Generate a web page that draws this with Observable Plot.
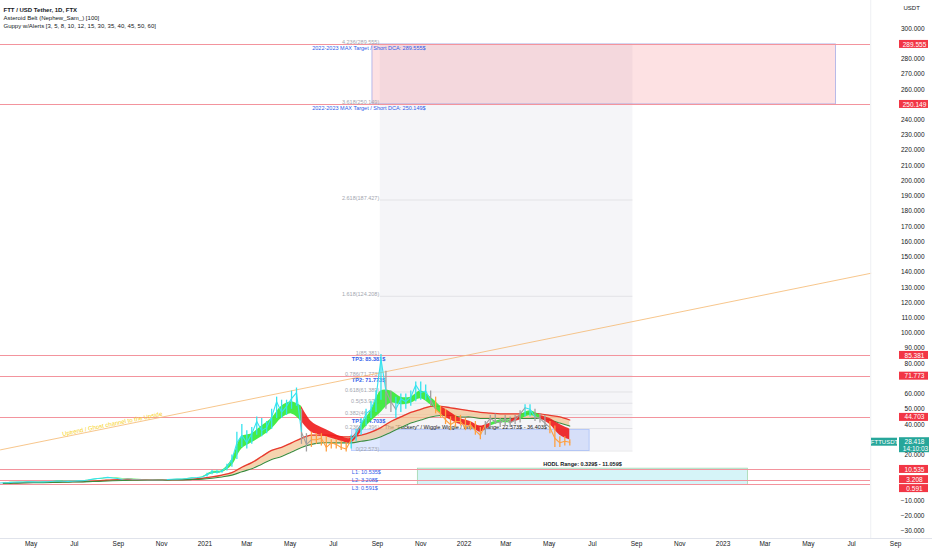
<!DOCTYPE html>
<html>
<head>
<meta charset="utf-8">
<script src="https://cdn.jsdelivr.net/npm/d3@7"></script>
<script src="https://cdn.jsdelivr.net/npm/@observablehq/plot@0.6"></script>
<style>
  body { margin: 0; background: #fff; }
  #chart { width: 932px; height: 550px; }
</style>
</head>
<body>
<div id="chart"></div>
<script>
// visible window of the chart
const chartStart = new Date("2020-03-19");
const chartEnd = new Date("2023-10-23");
const plotEdge = new Date("2023-07-28"); // where the price scale begins

// weekly closes FTT/USDT, Mondays from 2020-03-16 to 2022-05-30
const closes2020 = [1.6, 1.8, 1.9, 2.1, 2.2, 2.3, 2.4, 2.5, 2.3, 2.4, 2.5, 2.8, 2.9, 2.8, 2.7, 2.8, 3.0, 3.1, 3.6, 4.2, 4.6,
  4.9, 5.3, 4.9, 4.6, 3.9, 4.4, 4.0, 3.9, 3.8, 3.6, 3.7, 3.6, 3.6, 3.9, 4.1, 4.2, 4.3, 4.6, 5.0, 5.2, 5.6];
const closes2021 = [7.0, 9.0, 8.5, 9.5, 12, 17, 28, 33, 28, 34, 42, 36, 38, 45, 55, 48, 52, 57, 61, 35, 27, 30, 30, 31, 25, 28,
  27, 25, 24, 30, 34, 40, 47, 50, 58, 83, 62, 55, 50, 57, 55, 58, 66, 61, 62, 56, 50, 47, 43, 40, 42, 42];
const closes2022 = [38, 40, 36, 33, 40, 44, 42, 41, 44, 41, 43, 47, 51, 50, 45, 44, 41, 38, 31, 28, 29, 28.418];
// weekly highs and lows from 2021-01-04
const highs = [8, 10, 10, 10, 14, 20, 35, 40, 36, 38, 45, 44, 42, 50, 58, 56, 56, 62, 64, 50, 34, 35, 34, 34, 32, 30, 30, 29,
  28, 33, 37, 44, 50, 55, 62, 86, 75, 62, 58, 60, 60, 62, 68, 68, 66, 62, 58, 52, 50, 45, 46, 46,
  44, 42, 42, 38, 42, 46, 47, 44, 46, 45, 46, 49, 53, 53, 50, 47, 46, 42, 39, 32, 32, 30];
const lows = [5.5, 7, 7.5, 8, 9.5, 12, 17, 25, 24, 27, 33, 32, 34, 37, 44, 44, 46, 50, 52, 27, 22, 25, 27, 26, 22, 24, 24, 23,
  22, 24, 29, 33, 39, 44, 48, 56, 50, 48, 44, 48, 50, 52, 55, 56, 56, 52, 47, 44, 40, 36, 38, 39,
  36, 36, 33, 30, 33, 39, 40, 38, 39, 38, 40, 41, 45, 45, 42, 41, 38, 34, 25, 25, 26, 26];
// bar colouring (u = up / cyan, d = down / orange, n = neutral / grey), as runs of weeks
const trendRuns = [["u", 25], ["n", 9], ["u", 8], ["u", 19], ["n", 2], ["d", 8], ["u", 7], ["n", 2], ["u", 7], ["n", 1], ["d", 6],
  ["d", 4], ["n", 8], ["u", 2], ["n", 3], ["d", 5]];

// Guppy ribbons, every other Monday from 2020-03-23 to 2022-05-30
const fastLo = [1.6, 1.9, 2.1, 2.3, 2.3, 2.5, 2.7, 2.7, 2.9, 3.6, 4.3, 4.7, 4.2, 4.0, 3.8, 3.6, 3.6, 3.8, 4.1, 4.6, 5.2,
  7.5, 8.5, 13, 24, 28, 32, 37, 44, 47, 42, 35, 33, 31, 29, 28, 35, 42, 48, 54, 53, 54, 57, 53, 47, 43, 40,
  39, 35, 39, 41, 41, 43, 46, 44, 40, 33, 30];
const fastHi = [1.8, 2.1, 2.3, 2.5, 2.4, 2.7, 2.9, 2.8, 3.1, 4.0, 4.8, 5.1, 4.6, 4.3, 4.0, 3.8, 3.7, 4.0, 4.3, 4.9, 5.6,
  9.0, 9.8, 17, 32, 34, 39, 44, 52, 55, 52, 42, 38, 35, 32, 31, 40, 49, 62, 62, 58, 58, 62, 58, 52, 48, 44,
  42, 39, 41, 43, 43, 46, 49, 46, 44, 40, 37];
const fastRuns = [["g", 21], ["g", 9], ["r", 6], ["g", 8], ["r", 3], ["r", 2], ["g", 2], ["r", 1], ["g", 2], ["r", 4]];
const slowLo = [1.3, 1.5, 1.7, 1.8, 1.9, 2.0, 2.1, 2.3, 2.4, 2.6, 2.8, 3.1, 3.3, 3.4, 3.4, 3.5, 3.5, 3.6, 3.7, 3.9, 4.2,
  4.8, 5.6, 6.8, 9, 11, 14, 17, 19, 22, 25, 27, 28, 28, 28, 28, 29, 30, 32, 35, 38, 41, 43, 45, 46, 46, 45,
  45, 44, 44, 44, 44, 44, 44, 44, 43, 41, 39];
const slowHi = [1.5, 1.7, 1.9, 2.0, 2.1, 2.2, 2.4, 2.5, 2.6, 2.9, 3.3, 3.7, 3.8, 3.8, 3.8, 3.7, 3.7, 3.8, 3.9, 4.2, 4.7,
  5.6, 6.8, 8.5, 12, 15, 19, 23, 25, 28, 31, 33, 33, 33, 32, 32, 33, 35, 38, 42, 45, 48, 50, 52, 52, 51, 50,
  49, 48, 47.5, 47, 47, 47, 47.5, 47, 46, 45, 43];

// drawn levels
const levelValues = [289.555, 250.149, 85.381, 71.773, 44.703, 10.535, 3.208, 0.591];
const fibLevels = ["0", "0.236", "0.382", "0.5", "0.618", "0.786", "1", "1.618", "2.618", "3.618", "4.236"];
const fibPrices = [22.573, 37.396, 46.566, 53.977, 61.389, 71.773, 85.381, 124.208, 187.427, 250.149, 289.555];
const targetLabels = ["TP3: 85.381$", "TP2: 71.773$", "TP1: 44.703$"];
const targetValues = [85.381, 71.773, 44.703];
const lossLabels = ["L1: 10.535$", "L2: 3.208$", "L3: 0.591$"];
const lossValues = [10.535, 3.208, 0.591];
const trendline = [{date: chartStart, v: 23.4}, {date: plotEdge, v: 139.3}];

// axis ticks (the ones hidden behind the level labels are left out)
const yTicks = [-30, -20, -10, 20, 40, 50, 60, 80, 90, 100, 110, 120, 130, 140, 150, 160, 170, 180, 190,
  200, 210, 220, 230, 240, 260, 270, 280, 300];
const xTickDates = ["2020-05-01", "2020-07-01", "2020-09-01", "2020-11-01", "2021-01-01", "2021-03-01", "2021-05-01",
  "2021-07-01", "2021-09-01", "2021-11-01", "2022-01-01", "2022-03-01", "2022-05-01", "2022-07-01", "2022-09-01",
  "2022-11-01", "2023-01-01", "2023-03-01", "2023-05-01", "2023-07-01", "2023-09-01"];
const xTickLabels = ["May", "Jul", "Sep", "Nov", "2021", "Mar", "May", "Jul", "Sep", "Nov", "2022", "Mar", "May", "Jul",
  "Sep", "Nov", "2023", "Mar", "May", "Jul", "Sep"];

const expand = r => r.flatMap(([k, n]) => Array(n).fill(k));
const weeks = d3.utcMonday.range(new Date("2020-03-16"), new Date("2022-05-31"));
const closes = [...closes2020, ...closes2021, ...closes2022];
const trend = expand(trendRuns);
const ribbonDates = d3.utcMonday.range(new Date("2020-03-23"), new Date("2022-05-31"), 2);

const priceColor = {u: "#35e3ee", d: "#ffa040", n: "#a0a0a0"};
const fastColor = {g: "#33ea33", r: "#f01c1c"};

// split a series into runs of one colour, sharing the point where the colour changes
function runs(dates, keys, fields, palette) {
  const out = [];
  let seg = 0;
  dates.forEach((date, i) => {
    const row = {date};
    for (const [name, arr] of Object.entries(fields)) row[name] = arr[i];
    if (i > 0 && keys[i] !== keys[i - 1]) {
      out.push({...row, seg, c: palette[keys[i - 1]]});
      seg++;
    }
    out.push({...row, seg, c: palette[keys[i]]});
  });
  return out;
}

const priceData = runs(weeks, trend, {v: closes}, priceColor);
const wickOffset = weeks.length - highs.length;
const wicks = highs.map((h, i) => ({date: weeks[i + wickOffset], lo: lows[i], hi: h, c: priceColor[trend[i + wickOffset]]}));
const fastData = runs(ribbonDates, expand(fastRuns), {lo: fastLo, hi: fastHi}, fastColor);
const slowData = ribbonDates.map((date, i) => ({date, lo: slowLo[i], hi: slowHi[i]}));
const fibData = fibLevels.map((l, i) => ({l, v: fibPrices[i]}));

const font = "Liberation Sans, Arial, sans-serif";
const ink = "#131722";
const blue = "#2f5bea";
const fibStart = new Date("2021-09-05"), fibEnd = new Date("2022-08-27");
const labelStart = new Date("2021-07-27");

// a red price-scale label; shift moves it off its neighbour
const scaleLabel = (values, shift) => [
  Plot.rect(values, {y1: d => d, y2: d => d, fill: "#f23645", insetLeft: 899, insetRight: 4,
    insetTop: -4 + shift, insetBottom: -4 - shift}),
  Plot.text(values, {y: d => d, text: d3.format(".3f"), frameAnchor: "right", textAnchor: "middle",
    dx: -18, dy: shift, fontSize: 6.5, fill: "#fff"})
];

// a blue level caption next to its line
const levelCaption = (i, lineAnchor, dy) => Plot.text([lossLabels[i]], {x: labelStart, y: lossValues[i],
  text: d => d, textAnchor: "start", lineAnchor, dy, fontSize: 5.5, fill: blue});

const chart = Plot.plot({
  width: 932,
  height: 550,
  marginTop: 0,
  marginRight: 0,
  marginBottom: 12,
  marginLeft: 0,
  x: {type: "utc", domain: [chartStart, chartEnd], axis: null},
  y: {domain: [-34.8, 318.4], axis: null},
  color: {type: "identity"},
  style: {fontFamily: font, background: "#fff", overflow: "visible"},
  marks: [
    // fib extension background and levels
    Plot.rect([0], {x1: fibStart, x2: fibEnd, y1: 22.573, y2: 289.555, fill: "#eeeef3", fillOpacity: 0.6}),
    // target box
    Plot.rect([0], {x1: new Date("2021-08-25"), x2: new Date("2023-06-09"), y1: 250.149, y2: 289.555,
      fill: "#f23645", fillOpacity: 0.15, stroke: "#6f7fe0", strokeOpacity: 0.6, strokeWidth: 0.8}),
    // wiggle range box
    Plot.rect([0], {x1: labelStart, x2: new Date("2022-06-27"), y1: 22.573, y2: 36.403,
      fill: "#2962ff", fillOpacity: 0.15, stroke: "#2962ff", strokeOpacity: 0.3, strokeWidth: 0.8}),
    // HODL box
    Plot.rect([0], {x1: new Date("2021-10-28"), x2: new Date("2023-02-05"), y1: 0.329, y2: 11.059,
      fill: "#00bcd4", fillOpacity: 0.16, stroke: "#4caf50", strokeOpacity: 0.45, strokeWidth: 0.8}),
    Plot.ruleY(fibData, {y: "v", x1: fibStart, x2: fibEnd, stroke: "#9a9aa5", strokeOpacity: 0.3, strokeWidth: 0.7}),
    Plot.ruleY(levelValues, {x1: chartStart, x2: plotEdge, stroke: "#f3949d", strokeWidth: 1,
      shapeRendering: "crispEdges"}),
    Plot.text(fibData, {x: fibStart, y: "v", text: d => `${d.l}(${d.v})`, textAnchor: "end",
      lineAnchor: "bottom", dx: -1, dy: 0, fontSize: 5.5, fill: "#a3a6af"}),
    Plot.text(["2022-2023 MAX Target / Short DCA: 289.555$", "2022-2023 MAX Target / Short DCA: 250.149$"], {
      x: new Date("2021-08-20"), y: (d, i) => [289.555, 250.149][i], text: d => d, lineAnchor: "top", dy: 1.5,
      fontSize: 5.5, fill: blue}),
    Plot.text(targetLabels, {x: labelStart, y: (d, i) => targetValues[i], text: d => d,
      textAnchor: "start", lineAnchor: "top", dy: 1.5, fontSize: 5.5, fontWeight: "bold", fill: blue}),
    levelCaption(0, "top", 1),
    levelCaption(1, "middle", 0),
    levelCaption(2, "top", 1.5),
    Plot.text(["HODL Range: 0.329$ - 11.059$"], {x: new Date("2022-06-17"), y: 11.059, text: d => d,
      lineAnchor: "bottom", dy: -3, fontSize: 5.5, fontWeight: "bold", fill: ink}),
    Plot.text(['The "Fuckery" / Wiggle Wiggle / Waiting Range: 22.573$ - 36.403$'], {x: new Date("2021-09-11"),
      y: 36.403, text: d => d, textAnchor: "start", lineAnchor: "bottom", dy: -1, fontSize: 5.5, fill: ink}),
    // rising trendline
    Plot.line(trendline, {x: "date", y: "v", stroke: "#f5b76e", strokeWidth: 0.8}),
    Plot.text(["Uptrend / Ghost channel to the Upside"], {x: new Date("2020-08-24"), y: 38.5, text: d => d,
      rotate: -11.5, lineAnchor: "bottom", dy: -1, fontSize: 6, fill: "#f7d21b"}),
    // slow guppy ribbon
    Plot.areaY(slowData, {x: "date", y1: "lo", y2: "hi", fill: "#f2c28d", fillOpacity: 0.7, curve: "catmull-rom"}),
    Plot.line(slowData, {x: "date", y: "hi", stroke: "#e8392f", strokeWidth: 1.3, curve: "catmull-rom"}),
    Plot.line(slowData, {x: "date", y: "lo", stroke: "#3d8b3d", strokeWidth: 1.1, curve: "catmull-rom"}),
    // fast guppy ribbon
    Plot.areaY(fastData, {x: "date", y1: "lo", y2: "hi", z: "seg", fill: "c", fillOpacity: 0.9, curve: "catmull-rom"}),
    // price: weekly ranges and closes
    Plot.ruleX(wicks, {x: "date", y1: "lo", y2: "hi", stroke: "c", strokeWidth: 1.3}),
    Plot.line(priceData, {x: "date", y: "v", z: "seg", stroke: "c", strokeWidth: 1.1}),
    // frame of the price scale and time scale
    Plot.ruleY([-34.8], {stroke: "#e0e3eb"}),
    Plot.ruleX([plotEdge], {stroke: "#eef0f3"}),
    Plot.axisX(xTickDates.map(d => new Date(d)), {tickSize: 0, tickPadding: 3, fontSize: 6.5, fill: ink,
      tickFormat: (d, i) => xTickLabels[i]}),
    Plot.text(yTicks, {y: d => d, text: d3.format(".3f"), frameAnchor: "right", textAnchor: "end", dx: -8,
      fontSize: 6.5, fill: ink}),
    Plot.text(["USDT"], {frameAnchor: "top-right", text: d => d, textAnchor: "start", dx: -29, dy: 5,
      fontSize: 6, fill: ink}),
    // level labels on the price scale
    ...scaleLabel(levelValues.slice(0, 6), 0),
    ...scaleLabel([3.208], -1),
    ...scaleLabel([0.591], 4),
    // last price
    Plot.rect([28.418], {y1: d => d, y2: d => d, fill: "#26a69a", insetLeft: 871, insetRight: 35,
      insetTop: -4, insetBottom: -4}),
    Plot.rect([28.418], {y1: d => d, y2: d => d, fill: "#26a69a", insetLeft: 899, insetRight: 3,
      insetTop: -4.5, insetBottom: -10.5}),
    Plot.text(["FTTUSDT"], {y: 28.418, text: d => d, frameAnchor: "right", textAnchor: "middle", dx: -48,
      fontSize: 6, fill: "#fff"}),
    Plot.text(["28.418"], {y: 28.418, text: d => d, frameAnchor: "right", textAnchor: "middle", dx: -18,
      fontSize: 6.5, fill: "#fff"}),
    Plot.text(["14:10:03"], {y: 28.418, text: d => d, frameAnchor: "right", textAnchor: "middle", dx: -17, dy: 6.5,
      fontSize: 6.5, fill: "#fff"}),
    // indicator legend
    Plot.text(["FTT / USD Tether, 1D, FTX"], {frameAnchor: "top-left", text: d => d, textAnchor: "start",
      dx: 3, dy: 7, fontSize: 6, fontWeight: "bold", fill: ink}),
    Plot.text(["Asteroid Belt (Nephew_Sam_) [100]"], {frameAnchor: "top-left", text: d => d, textAnchor: "start",
      dx: 3, dy: 15, fontSize: 6, fill: ink}),
    Plot.text(["Guppy w/Alerts [3, 5, 8, 10, 12, 15, 30, 35, 40, 45, 50, 60]"], {frameAnchor: "top-left",
      text: d => d, textAnchor: "start", dx: 3, dy: 23, fontSize: 6, fill: ink})
  ]
});

d3.select("#chart").append(() => chart);
</script>
</body>
</html>
